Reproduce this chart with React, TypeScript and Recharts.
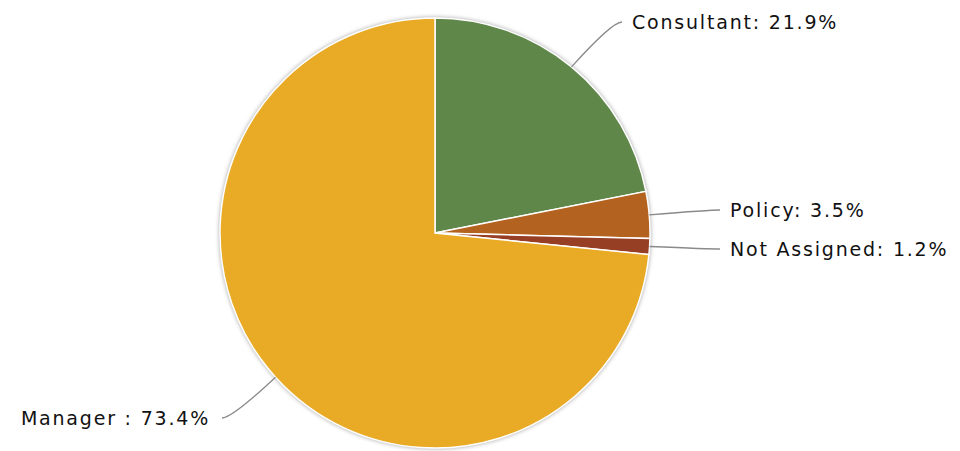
import { PieChart, Pie, Cell } from "recharts";

const categories = ["Consultant", "Policy", "Not Assigned", "Manager"];
const shares = [21.9, 3.5, 1.2, 73.4];
const labelText = ["Consultant: 21.9%", "Policy: 3.5%", "Not Assigned: 1.2%", "Manager : 73.4%"];
const colors = ["#5f8749", "#b3621f", "#973f24", "#e9aa25"];

const data = categories.map((name, i) => ({ name, value: shares[i] }));

// where each label's leader line ends, relative to the pie centre
const labelEnds = [
  { dx: 187, dy: -211, side: 1 },
  { dx: 285, dy: -23, side: 1 },
  { dx: 285, dy: 16, side: 1 },
  { dx: -213, dy: 185, side: -1 },
];

const RAD = Math.PI / 180;

function renderLabel(props: any) {
  const { cx, cy, midAngle, outerRadius, index } = props;
  const sx = cx + outerRadius * Math.cos(-midAngle * RAD);
  const sy = cy + outerRadius * Math.sin(-midAngle * RAD);
  const end = labelEnds[index];
  const ex = cx + end.dx;
  const ey = cy + end.dy;
  // bend the line so it meets the text horizontally
  const qx = ex - end.side * 10;
  const qy = ey;
  return (
    <g key={`lbl-${index}`}>
      <path
        d={`M${sx},${sy} Q${qx},${qy} ${ex},${ey}`}
        fill="none"
        stroke="#8a8a8a"
        strokeWidth={1.3}
      />
      <text
        x={ex + end.side * (end.side > 0 ? 10 : 12)}
        y={ey}
        textAnchor={end.side > 0 ? "start" : "end"}
        dominantBaseline="central"
        fill="#111"
        fontSize={19}
        letterSpacing={1.8}
        fontFamily="DejaVu Sans, sans-serif"
      >
        {labelText[index]}
      </text>
    </g>
  );
}

export default function App() {
  return (
    <div style={{ width: 960, height: 451, background: "#fff" }}>
      <style>{`body{margin:0} .recharts-pie{filter:drop-shadow(0 0 2px rgba(0,0,0,0.35));}`}</style>
      <PieChart width={960} height={451}>
        <Pie
          data={data}
          dataKey="value"
          nameKey="name"
          cx={430}
          cy={228}
          outerRadius={215}
          startAngle={90}
          endAngle={-270}
          stroke="#ffffff"
          strokeWidth={1.5}
          label={renderLabel}
          labelLine={false}
          isAnimationActive={false}
        >
          {data.map((d, i) => (
            <Cell key={d.name} fill={colors[i]} />
          ))}
        </Pie>
      </PieChart>
    </div>
  );
}
